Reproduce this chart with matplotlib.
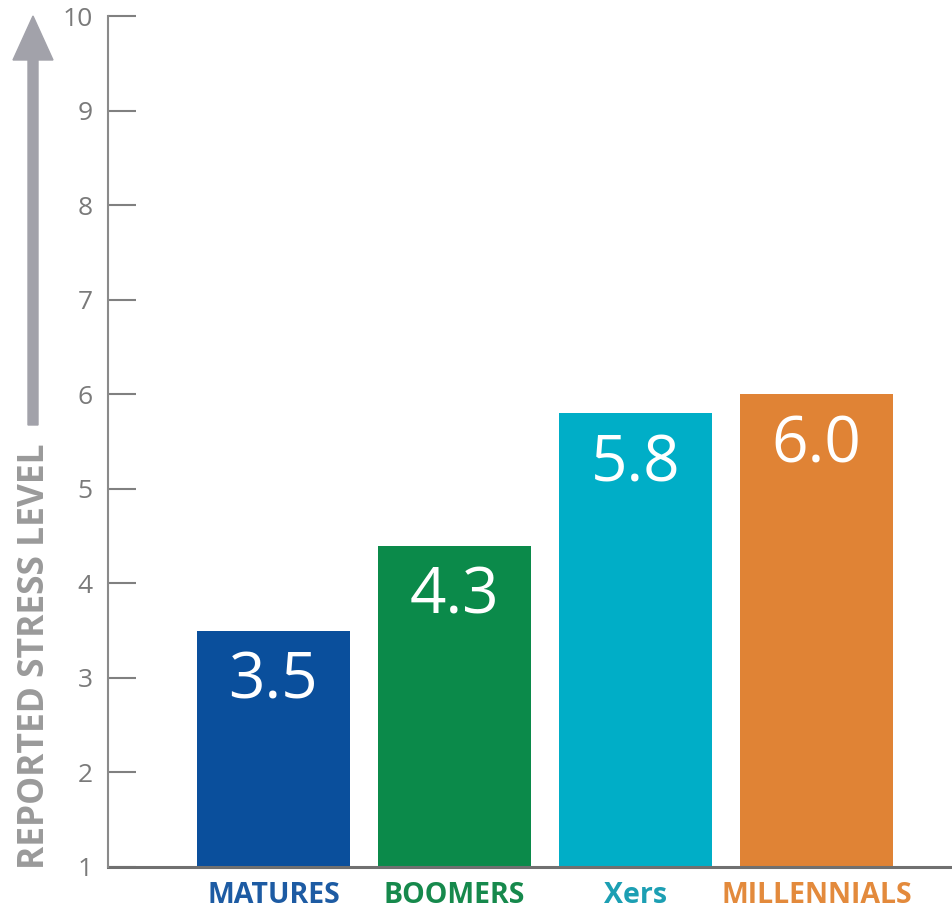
#!/usr/bin/env python3
# -*- coding: utf-8 -*-

import matplotlib
matplotlib.use('Agg')
import matplotlib.pyplot as plt
from matplotlib.patches import FancyArrow

groups=['MATURES', 'BOOMERS', 'Xers', 'MILLENNIALS']
heights=[3.5, 4.4, 5.8, 6.0]        # bar tops as drawn
labels=['3.5', '4.3', '5.8', '6.0']  # printed values
bar_colors=['#0a4f9c', '#0b8a4a', '#00aec7', '#e08335']
text_colors=['#1d5ba3', '#16894c', '#1c9fb3', '#e38a3c']
yticks=list(range(1, 11))

plt.rcParams['font.family']=['Open Sans', 'DejaVu Sans']

fig=plt.figure(figsize=(9.52, 9.08), dpi=100, facecolor='white')
ax=fig.add_axes((108/952, 1-867/908, 1-108/952, (867-16)/908))

x=list(range(len(groups)))
base=1
ax.bar(x, [h-base for h in heights], bottom=base, width=0.845, color=bar_colors, zorder=2)

for xi, h, lab in zip(x, heights, labels):
  ax.text(xi, h-0.2, lab, ha='center', va='top', color='white', fontsize=46)

ax.set_xlim(-0.914, 3.749)
ax.set_ylim(1, 10)
ax.set_yticks(yticks)
ax.set_yticklabels([str(t) for t in yticks], fontsize=19, color='#7a7a7a')
ax.tick_params(axis='y', direction='in', length=20, width=1.5, color='#808080', pad=11)
ax.set_xticks(x)
ax.set_xticklabels(groups, fontsize=20.5, fontweight='bold')
for t, c in zip(ax.get_xticklabels(), text_colors):
  t.set_color(c)
ax.tick_params(axis='x', length=0, pad=10)

for s in ['top', 'right']:
  ax.spines[s].set_visible(False)
ax.spines['left'].set_color('#8a8a8a')
ax.spines['left'].set_linewidth(1.5)
ax.spines['bottom'].set_color('#707070')
ax.spines['bottom'].set_linewidth(2.2)
ax.spines['left'].set_zorder(3)

# arrow and axis title on the left
arr=FancyArrow(0.33, 4.83, 0, 8.92-4.83, width=0.10, head_width=0.40, head_length=0.44,
               length_includes_head=True, color='#a2a2aa', transform=fig.dpi_scale_trans)
fig.add_artist(arr)
fig.text(0.35/9.52, 2.52/9.08, 'REPORTED STRESS LEVEL', rotation=90, ha='center', va='center',
         fontsize=25.5, fontweight='bold', color='#9a9a9a')

fig.savefig('out.png')
